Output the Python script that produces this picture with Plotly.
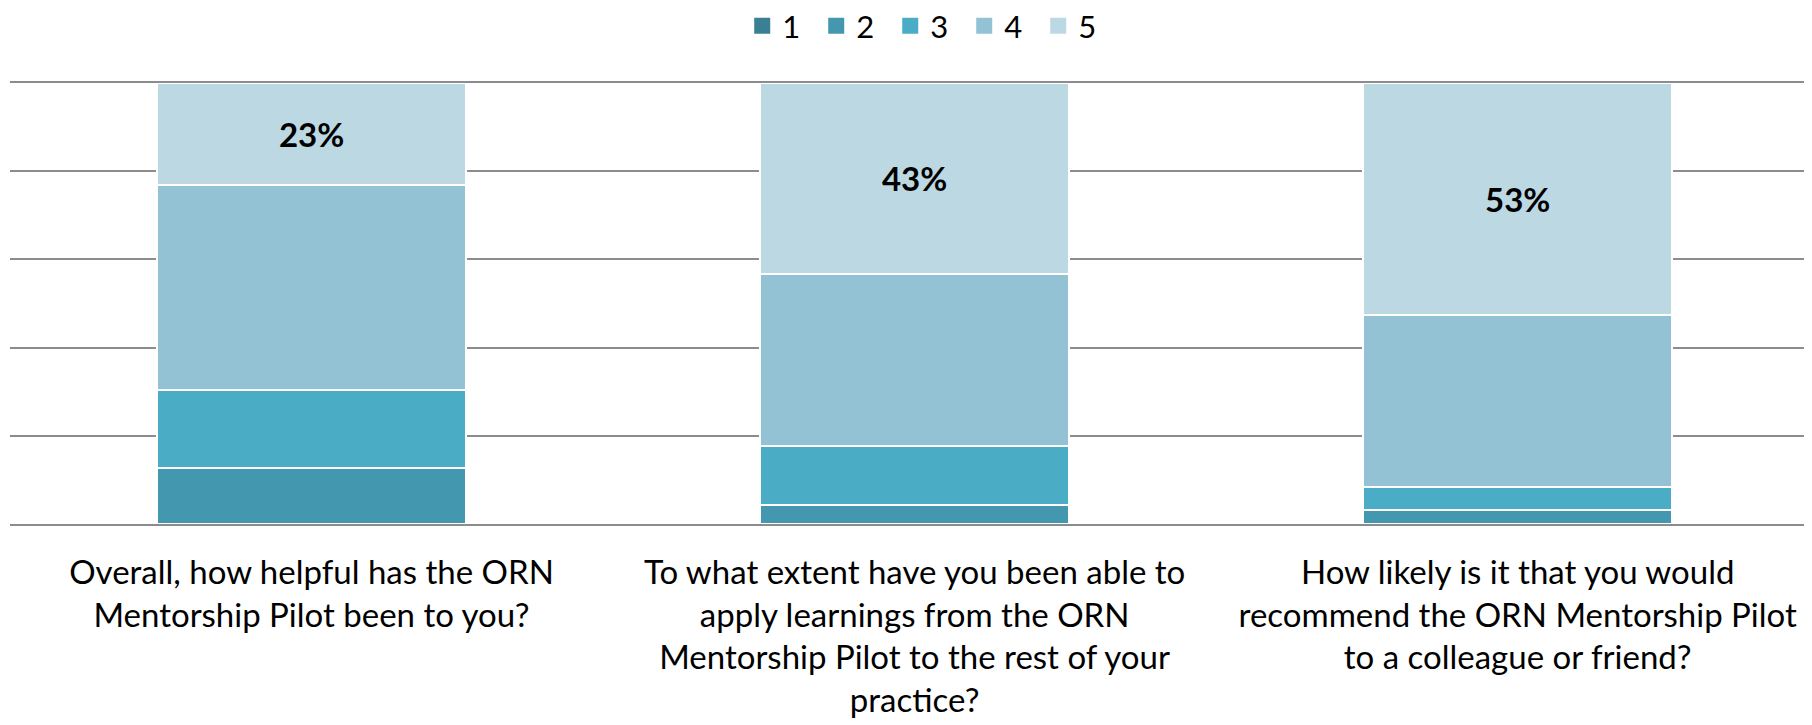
import plotly.graph_objects as go

questions = [
    "Overall, how helpful has the ORN<br>Mentorship Pilot been to you?",
    "To what extent have you been able to<br>apply learnings from the ORN<br>Mentorship Pilot to the rest of your<br>practice?",
    "How likely is it that you would<br>recommend the ORN Mentorship Pilot<br>to a colleague or friend?",
]
series_names = ["1", "2", "3", "4", "5"]
s1 = [0.0, 0.0, 0.0]
s2 = [12.6, 4.2, 3.1]
s3 = [17.9, 13.6, 5.3]
s4 = [46.3, 38.9, 38.9]
s5 = [23.2, 43.3, 52.7]
series_values = [s1, s2, s3, s4, s5]
colors = ["#3a7f92", "#4397ae", "#4bacc6", "#93c2d4", "#bcd8e3"]

xs = [0, 1, 2]
FONT = "Lato"
GRID = "#8c8c8c"

fig = go.Figure()
for name, vals, col in zip(series_names, series_values, colors):
    show_text = name == "5"
    fig.add_trace(go.Bar(
        x=xs, y=vals, name=name, width=0.512, showlegend=False,
        legendgroup=name,
        marker=dict(color=col, line=dict(color="white", width=2)),
        text=[f"{v:.0f}%" for v in vals] if show_text else None,
        textposition="inside" if show_text else "none",
        insidetextanchor="middle",
        textangle=0,
        textfont=dict(family=FONT, size=33, color="black", weight="bold"),
        hoverinfo="skip",
    ))
# legend entries (square swatches)
for name, col in zip(series_names, colors):
    fig.add_trace(go.Scatter(
        x=[None], y=[None], mode="markers", name=name, legendgroup=name,
        marker=dict(symbol="square", size=16, color=col),
        showlegend=True, hoverinfo="skip",
    ))

fig.update_layout(
    barmode="stack",
    width=1812, height=725,
    margin=dict(l=2, r=8, t=75, b=209, autoexpand=False),
    paper_bgcolor="white", plot_bgcolor="white",
    font=dict(family=FONT, color="black"),
    uniformtext=dict(minsize=10, mode="show"),
    legend=dict(
        orientation="h", x=0.509, xanchor="center",
        yref="container", y=1 - 18 / 725, yanchor="middle",
        font=dict(family=FONT, size=31, color="black"),
        entrywidth=29, entrywidthmode="pixels",
        itemsizing="trace",
        traceorder="normal",
    ),
    showlegend=True,
)
fig.update_xaxes(
    type="linear", range=[-0.5, 2.488],
    tickmode="array", tickvals=xs, ticktext=questions,
    tickfont=dict(family=FONT, size=33, color="black"),
    showgrid=False, zeroline=False, ticks="",
    showline=True, mirror=True, linecolor=GRID, linewidth=2,
    ticklabelstandoff=18, automargin=False,
)
fig.update_yaxes(
    range=[0, 100], dtick=20, showticklabels=False,
    showgrid=True, gridcolor=GRID, gridwidth=2,
    zeroline=False, showline=False, ticks="", automargin=False,
)

fig.write_html("out.html")
